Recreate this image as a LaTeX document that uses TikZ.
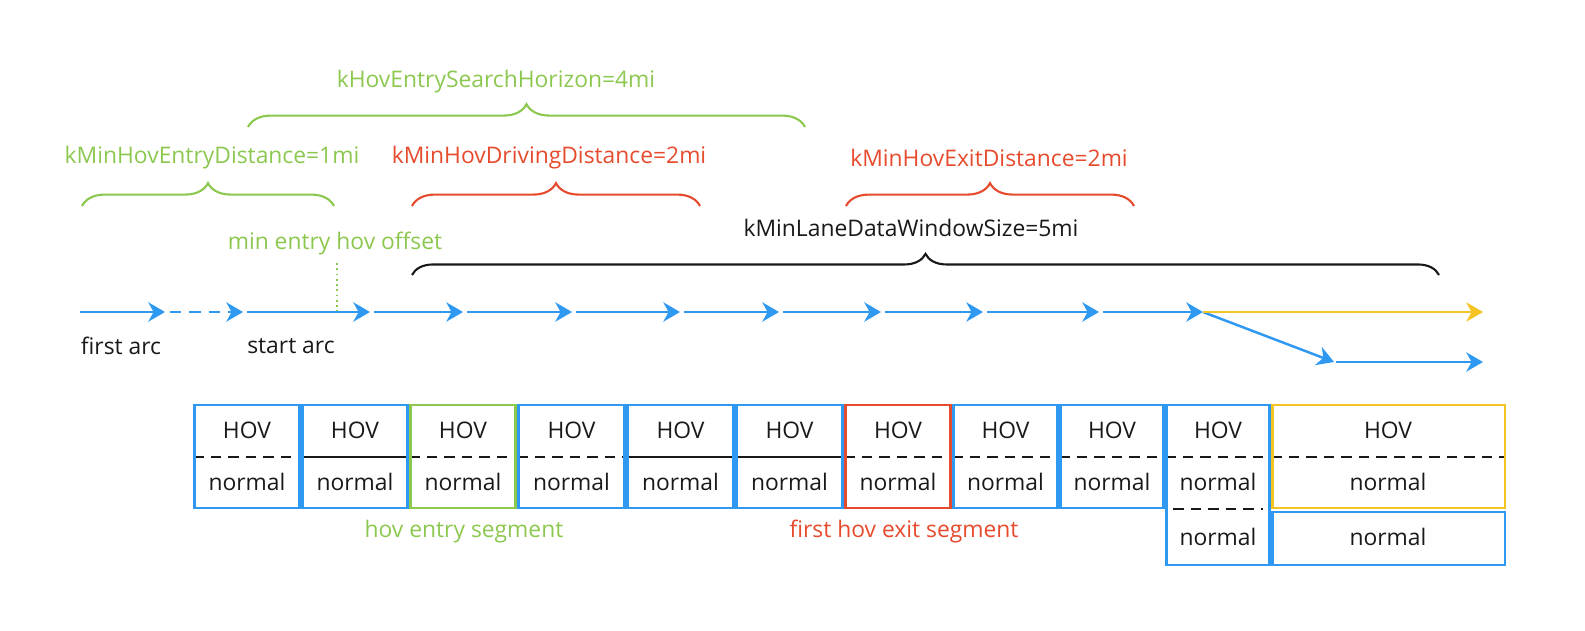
\documentclass[tikz,border=0pt]{standalone}
\usepackage{fontspec}
\setmainfont{Open Sans}
\usepackage{xcolor}
\usepackage{tikz}
\usetikzlibrary{arrows.meta,positioning,calc,decorations.pathreplacing}

\definecolor{arcblue}{RGB}{47,152,240}
\definecolor{hovgreen}{RGB}{140,200,80}
\definecolor{hovred}{RGB}{230,75,45}
\definecolor{exityellow}{RGB}{245,195,35}
\definecolor{ink}{RGB}{25,25,25}

\begin{document}
\begin{tikzpicture}[x=0.02cm, y=-0.02cm, font=\fontsize{13}{15.5}\selectfont, text=ink,
  arc/.style={arcblue, line width=1.4pt, -{Stealth[length=9.5pt,width=11pt,inset=3pt]}},
  span/.style={line width=1.2pt, decorate, decoration={brace, amplitude=13pt}},
  seg/.style={draw=arcblue, line width=1.4pt},
  split/.style={ink, line width=1.2pt},
  splitdash/.style={split, dash pattern=on 6pt off 4pt}]
  \useasboundingbox (0,0) rectangle (1585,630);

  % Arc chain along the route
  \foreach \n/\x in {0/80, 1/165, 2/243, 3/370, 4/463, 5/572, 6/680, 7/779, 8/881, 9/983, 10/1099, 11/1203} {
    \coordinate (p\n) at (\x, 312);
  }
  \coordinate (yend) at (1483, 312);
  \coordinate (q1) at (1334, 362);
  \coordinate (q2) at (1483, 362);

  \draw[arc] (p0) -- (p1);
  \draw[arc, dash pattern=on 6.5pt off 4.5pt] ($(p1)+(5,0)$) -- (p2);
  \foreach \a/\b in {2/3, 3/4, 4/5, 5/6, 6/7, 7/8, 8/9, 9/10, 10/11} {
    \draw[arc] ($(p\a)+(4,0)$) -- (p\b);
  }
  \draw[arc] (p11) -- (q1);
  \draw[arc] ($(q1)+(2,0)$) -- (q2);
  \draw[arc, exityellow] (p11) -- (yend);

  \node (firstarc) at (121, 346) {first arc};
  \node (startarc) at (291, 346) {start arc};

  % Min entry hov offset marker
  \coordinate (off1) at (337, 263);
  \coordinate (off2) at (337, 311);
  \draw[hovgreen, line width=1pt, dotted] (off1) -- (off2);
  \node[hovgreen] (offlbl) at (335, 243) {min entry hov offset};

  % Distance braces
  \coordinate (sh1) at (248, 127); \coordinate (sh2) at (805, 127);
  \coordinate (ed1) at (82, 206);  \coordinate (ed2) at (334, 206);
  \coordinate (dd1) at (412, 206); \coordinate (dd2) at (700, 206);
  \coordinate (xd1) at (846, 206); \coordinate (xd2) at (1134, 206);
  \coordinate (ws1) at (412, 275); \coordinate (ws2) at (1439, 275);

  \draw[span, hovgreen] (sh1) -- (sh2);
  \draw[span, hovgreen] (ed1) -- (ed2);
  \draw[span, hovred] (dd1) -- (dd2);
  \draw[span, hovred] (xd1) -- (xd2);
  \draw[span, ink, decoration={brace, amplitude=12pt}] (ws1) -- (ws2);

  \node[hovgreen] (shlbl) at (496, 82) {kHovEntrySearchHorizon=4mi};
  \node[hovgreen] (edlbl) at (212, 158) {kMinHovEntryDistance=1mi};
  \node[hovred] (ddlbl) at (549, 158) {kMinHovDrivingDistance=2mi};
  \node[hovred] (xdlbl) at (989, 158) {kMinHovExitDistance=2mi};
  \node (wslbl) at (911, 228) {kMinLaneDataWindowSize=5mi};

  % Lane segments
  \foreach \i/\l/\r/\col/\sty in {1/193/301/arcblue/splitdash, 2/301/409/arcblue/split,
      3/409/517/hovgreen/splitdash, 4/517/626/arcblue/splitdash, 5/626/735/arcblue/split,
      6/735/844/arcblue/split, 7/844/952/hovred/splitdash, 8/952/1059/arcblue/splitdash,
      9/1059/1165/arcblue/splitdash} {
    \draw[\sty] (\l, 457) -- (\r, 457);
    \draw[seg, draw=\col] ({\l+1.5}, 405) rectangle ({\r-1.5}, 508);
    \node (hov\i) at ({(\l+\r)/2}, 430) {HOV};
    \node (nrm\i) at ({(\l+\r)/2}, 482) {normal};
  }

  % Split segment
  \draw[splitdash] (1165, 457) -- (1271, 457);
  \draw[splitdash] (1173, 509) -- (1263, 509);
  \draw[seg] (1166.5, 405) rectangle (1269.5, 565);
  \node (hov10) at (1218, 430) {HOV};
  \node (nrm10) at (1218, 482) {normal};
  \node (low10) at (1218, 537) {normal};

  % Exit branch and main branch
  \draw[splitdash] (1271, 457) -- (1506, 457);
  \draw[seg, draw=exityellow] (1272.5, 405) rectangle (1505, 508);
  \draw[seg] (1272.5, 512) rectangle (1505, 565);
  \node (hov11) at (1388, 430) {HOV};
  \node (nrm11) at (1388, 482) {normal};
  \node (low11) at (1388, 537) {normal};

  \node[hovgreen] (entryseg) at (464, 532) {hov entry segment};
  \node[hovred] (exitseg) at (904, 531) {first hov exit segment};
\end{tikzpicture}
\end{document}
